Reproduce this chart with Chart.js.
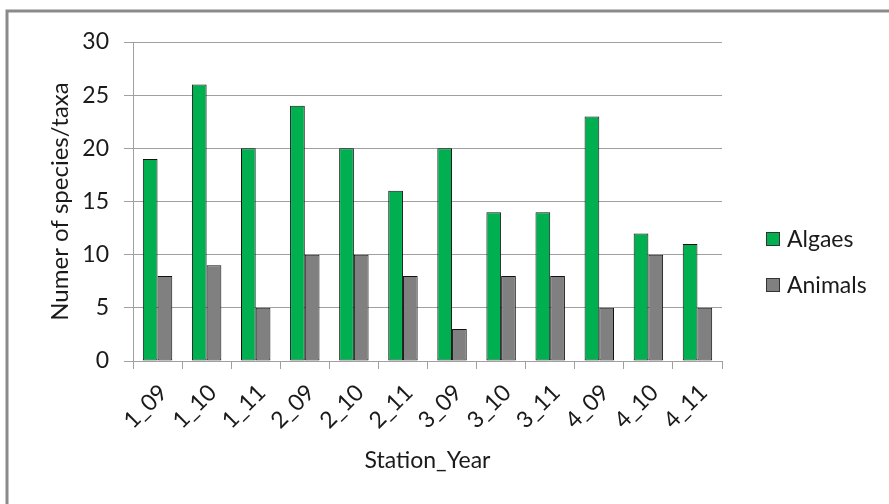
<!DOCTYPE html>
<html>
<head>
<meta charset="utf-8">
<script src="https://cdn.jsdelivr.net/npm/chart.js@4/dist/chart.umd.min.js"></script>
<style>
  html, body { margin: 0; padding: 0; background: #ffffff; }
  canvas { display: block; }
</style>
</head>
<body>
<canvas id="chart" width="889" height="504"></canvas>
<script>
// Station/year categories and species counts per group
const categories = ['1_09', '1_10', '1_11', '2_09', '2_10', '2_11', '3_09', '3_10', '3_11', '4_09', '4_10', '4_11'];
const algaes  = [19, 26, 20, 24, 20, 16, 20, 14, 14, 23, 12, 11];
const animals = [8, 9, 5, 10, 10, 8, 3, 8, 8, 5, 10, 5];
const seriesNames = ['Algaes', 'Animals'];
const yTicks = [0, 5, 10, 15, 20, 25, 30];
const xTitle = 'Station_Year';
const yTitle = 'Numer of species/taxa';

const FONT = 'Lato, "Liberation Sans", sans-serif';
const TEXT = '#1a1a1a';
const GRID = '#a0a0a0';

Chart.defaults.font.family = FONT;
Chart.defaults.font.size = 23;
Chart.defaults.color = TEXT;

// Outer frame of the chart (right and bottom edges run past the canvas)
const framePlugin = {
  id: 'frame',
  beforeDraw(chart) {
    const ctx = chart.ctx;
    ctx.save();
    ctx.fillStyle = '#ffffff';
    ctx.fillRect(0, 0, chart.width, chart.height);
    ctx.strokeStyle = '#8a8a8a';
    ctx.lineWidth = 3;
    ctx.strokeRect(7, 11, 900, 520);
    ctx.restore();
  }
};

// Legend drawn at the right, next to the plot area
const sideLegend = {
  id: 'sideLegend',
  afterDraw(chart) {
    const ctx = chart.ctx;
    ctx.save();
    ctx.font = '23px ' + FONT;
    ctx.textBaseline = 'middle';
    ctx.textAlign = 'left';
    chart.data.datasets.forEach((ds, i) => {
      const cy = 239 + i * 46;
      ctx.fillStyle = ds.backgroundColor;
      ctx.fillRect(766, cy - 7, 14, 14);
      ctx.strokeStyle = '#333333';
      ctx.lineWidth = 1;
      ctx.strokeRect(766.5, cy - 6.5, 13, 13);
      ctx.fillStyle = TEXT;
      ctx.fillText(ds.label, 787, cy + 1);
    });
    ctx.restore();
  }
};

new Chart(document.getElementById('chart'), {
  type: 'bar',
  data: {
    labels: categories,
    datasets: [
      { label: seriesNames[0], data: algaes, backgroundColor: '#00b050', borderColor: '#111111', borderWidth: 1, borderSkipped: false },
      { label: seriesNames[1], data: animals, backgroundColor: '#808080', borderColor: '#111111', borderWidth: 1, borderSkipped: false }
    ]
  },
  options: {
    responsive: false,
    animation: false,
    devicePixelRatio: 1,
    layout: { padding: { left: 10, top: 42, right: 167, bottom: 0 } },
    datasets: { bar: { categoryPercentage: 0.6, barPercentage: 1.0 } },
    plugins: {
      legend: { display: false },
      tooltip: { enabled: false }
    },
    scales: {
      x: {
        grid: { offset: true, drawOnChartArea: false, drawTicks: true, tickLength: 8, color: GRID, lineWidth: 1 },
        border: { display: true, color: GRID, width: 1 },
        ticks: { minRotation: 45, maxRotation: 45, padding: 10, labelOffset: 6, font: { size: 23 }, color: TEXT },
        title: { display: true, text: xTitle, font: { size: 23 }, color: TEXT, padding: { top: 0, bottom: 30 } },
        afterFit(scale) { scale.height = 143; }
      },
      y: {
        min: 0,
        max: 30,
        afterBuildTicks(scale) { scale.ticks = yTicks.map(v => ({ value: v })); },
        grid: { color: GRID, lineWidth: 1, drawTicks: true, tickLength: 9 },
        border: { display: true, color: GRID, width: 1 },
        ticks: { padding: 15, font: { size: 23 }, color: TEXT },
        title: { display: true, text: yTitle, font: { size: 24 }, color: TEXT, padding: { top: 36, bottom: 0 } },
        afterFit(scale) { scale.width = 123; }
      }
    }
  },
  plugins: [framePlugin, sideLegend]
});
</script>
</body>
</html>
